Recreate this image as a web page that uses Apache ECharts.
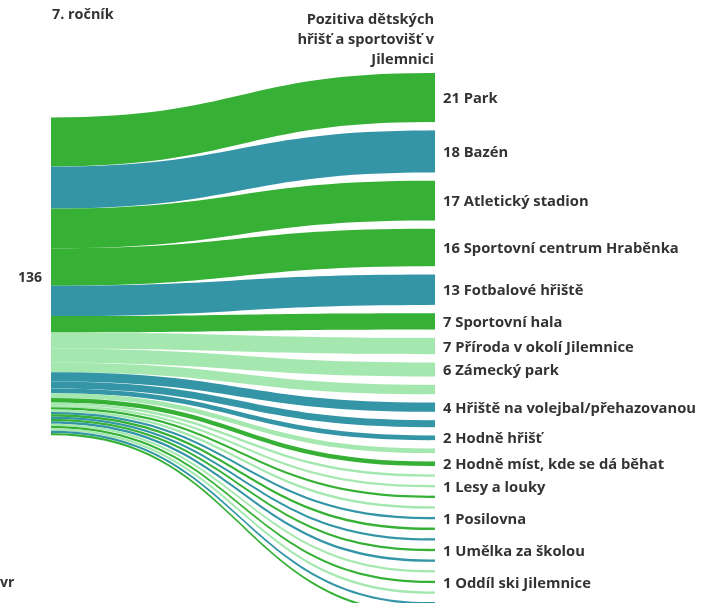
<!DOCTYPE html>
<html>
<head>
<meta charset="utf-8">
<script src="https://cdn.jsdelivr.net/npm/echarts@6/dist/echarts.min.js"></script>
<style>
html,body{margin:0;padding:0;background:#fff;}
#chart{width:710px;height:603px;}
</style>
</head>
<body>
<div id="chart"></div>
<script>
// Source node
const sourceName = '7. ročník';
const sourceHeader = '7. ročník';
const targetHeader = 'Pozitiva dětských\nhřišť a sportovišť v\nJilemnici';

// Target nodes (right column), top to bottom
const targetNames = [
  'Park', 'Bazén', 'Atletický stadion', 'Sportovní centrum Hraběnka', 'Fotbalové hřiště',
  'Sportovní hala', 'Příroda v okolí Jilemnice', 'Zámecký park', 'skryto A',
  'Hřiště na volejbal/přehazovanou', 'skryto B', 'Hodně hřišť', 'skryto C',
  'Hodně míst, kde se dá běhat', 'skryto D', 'Lesy a louky', 'skryto E', 'skryto F',
  'Posilovna', 'skryto G', 'skryto H', 'Umělka za školou', 'skryto I', 'skryto J',
  'Oddíl ski Jilemnice', 'skryto K', 'skryto L', 'skryto M'
];
const targetValues = [
  21, 18, 17, 16, 13,
  7, 7, 6, 4,
  4, 3, 2, 2,
  2, 1, 1, 1, 1,
  1, 1, 1, 1, 1, 1,
  1, 1, 1, 1
];
const targetColorKeys = [
  'g', 't', 'g', 'g', 't',
  'g', 'l', 'l', 'l',
  't', 't', 't', 'l',
  'g', 'l', 'l', 'g', 'l',
  't', 'g', 't', 'g', 't', 'l',
  'g', 'l', 't', 'g'
];
const targetLabelShown = [
  1, 1, 1, 1, 1,
  1, 1, 1, 0,
  1, 0, 1, 0,
  1, 0, 1, 0, 0,
  1, 0, 0, 1, 0, 0,
  1, 0, 0, 0
];
const palette = { g: '#36b136', t: '#3395a6', l: '#a5e8af' };

const FONT = '"Open Sans", "Noto Sans", sans-serif';

const nodes = [{
  name: sourceName,
  itemStyle: { color: '#ffffff', opacity: 0 },
  label: {
    show: true, position: 'left', distance: 4, fontSize: 14,
    formatter: function (p) { return String(p.value); }
  }
}];
targetNames.forEach(function (n, i) {
  nodes.push({
    name: n,
    itemStyle: { color: palette[targetColorKeys[i]] },
    label: { show: !!targetLabelShown[i] }
  });
});
const links = targetNames.map(function (n, i) {
  return {
    source: sourceName, target: n, value: targetValues[i],
    lineStyle: { color: palette[targetColorKeys[i]], opacity: 1 }
  };
});

const chart = echarts.init(document.getElementById('chart'), null, { renderer: 'canvas' });
chart.setOption({
  backgroundColor: '#ffffff',
  animation: false,
  graphic: [
    { type: 'text', x: 52, y: 8, style: { text: sourceHeader, font: 'bold 14.4px ' + FONT, fill: '#333333' } },
    { type: 'text', x: 434, y: 9.5, style: { text: targetHeader, font: 'bold 14.6px ' + FONT, fill: '#333333', align: 'right', verticalAlign: 'top', lineHeight: 20 } },
    { type: 'text', x: 0, y: 576, style: { text: 'vr', font: 'bold 14px ' + FONT, fill: '#333333' } }
  ],
  series: [{
    type: 'sankey',
    left: 46,
    right: 275,
    top: 73,
    bottom: -12,
    nodeWidth: 5,
    nodeGap: 8.3,
    layoutIterations: 32,
    draggable: false,
    emphasis: { disabled: true },
    data: nodes,
    links: links,
    lineStyle: { curveness: 0.5, opacity: 1 },
    label: {
      position: 'right',
      distance: 8,
      offset: [0, 1.5],
      color: '#333333',
      fontFamily: FONT,
      fontWeight: 'bold',
      fontSize: 14.75,
      formatter: function (p) { return p.value + ' ' + p.name; }
    }
  }]
});
</script>
</body>
</html>
